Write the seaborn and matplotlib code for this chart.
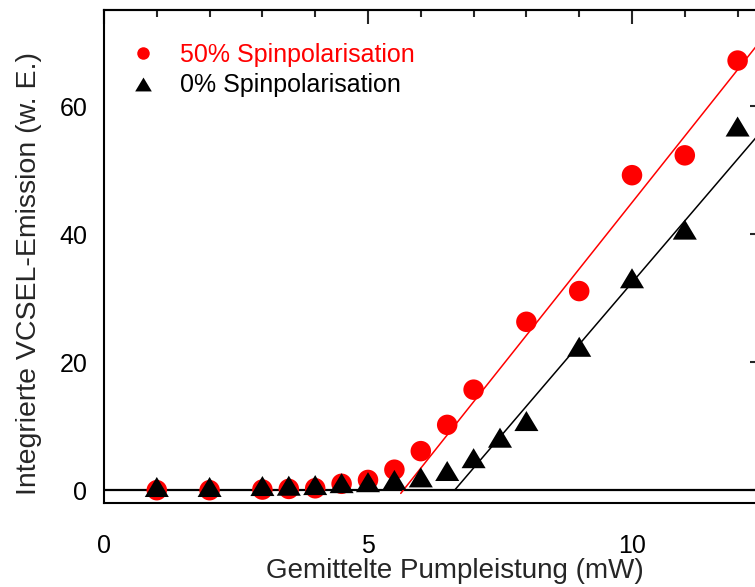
import matplotlib
matplotlib.use("Agg")
import matplotlib.pyplot as plt
from matplotlib.lines import Line2D
from matplotlib.ticker import MultipleLocator, NullFormatter
import seaborn as sns

# Pump power (mW) and integrated emission (arb. units)
power_50 = [1, 2, 3, 3.5, 4, 4.5, 5, 5.5, 6, 6.5, 7, 8, 9, 10, 11, 12]
emission_50 = [0.0, 0.0, 0.1, 0.2, 0.3, 1.0, 1.6, 3.2, 6.1, 10.2, 15.7, 26.3,
               31.1, 49.2, 52.3, 67.1]

power_0 = [1, 2, 3, 3.5, 4, 4.5, 5, 5.5, 6, 6.5, 7, 7.5, 8, 9, 10, 11, 12]
emission_0 = [0.5, 0.5, 0.65, 0.7, 0.8, 1.1, 1.25, 1.6, 2.0, 3.0, 5.0, 8.2,
              10.8, 22.4, 33.1, 40.7, 56.8]

# Linear fits above threshold (end points)
fit_50_x = [5.62, 12.6]
fit_50_y = [-0.5, 71.9]
fit_0_x = [6.64, 12.6]
fit_0_y = [0.0, 57.5]

labels = ["50% Spinpolarisation", "0% Spinpolarisation"]
colors = ["#ff0000", "#000000"]

sns.set_style("white")
plt.rcParams["font.family"] = ["Liberation Sans", "DejaVu Sans"]

fig = plt.figure(figsize=(7.55, 5.87), dpi=100)
ax = fig.add_axes([104 / 755, 84 / 587, 660 / 755, 493 / 587])

# triangle a bit wider than tall
tri = [(-1.2, -1.0), (1.2, -1.0), (0.0, 1.0)]

ax.axhline(0, color="black", lw=1.6, zorder=1)
sns.lineplot(x=fit_50_x, y=fit_50_y, color=colors[0], lw=1.1, ax=ax, zorder=2)
sns.lineplot(x=fit_0_x, y=fit_0_y, color=colors[1], lw=1.1, ax=ax, zorder=2)
sns.scatterplot(x=power_50, y=emission_50, marker="o", s=218, color=colors[0],
                edgecolor="none", linewidth=0, ax=ax, zorder=3)
sns.scatterplot(x=power_0, y=emission_0, marker=tri, s=300, color=colors[1],
                edgecolor="none", linewidth=0, ax=ax, zorder=4)

ax.set_xlim(0, 12.5)
ax.set_ylim(-2, 75)

ax.xaxis.set_major_locator(MultipleLocator(5))
ax.xaxis.set_minor_locator(MultipleLocator(1))
ax.yaxis.set_major_locator(MultipleLocator(20))
ax.yaxis.set_minor_locator(MultipleLocator(10))
ax.tick_params(which="both", direction="out", top=False, right=False,
               width=1.5, labelsize=18, colors="black")
ax.tick_params(which="major", length=10)
ax.tick_params(which="minor", length=5)
ax.tick_params(axis="x", pad=12)
ax.tick_params(axis="y", pad=2)

for side in ["left", "bottom", "top", "right"]:
    ax.spines[side].set_visible(True)
    ax.spines[side].set_color("black")
    ax.spines[side].set_linewidth(1.5)

# inward ticks on the top and right edges
top = ax.secondary_xaxis("top")
top.xaxis.set_major_locator(MultipleLocator(5))
top.xaxis.set_minor_locator(MultipleLocator(1))
top.xaxis.set_major_formatter(NullFormatter())
top.tick_params(which="both", direction="in", width=1.5)
top.tick_params(which="major", length=10)
top.tick_params(which="minor", length=5)
top.spines["top"].set_linewidth(1.5)

right = ax.secondary_yaxis("right")
right.yaxis.set_major_locator(MultipleLocator(20))
right.yaxis.set_minor_locator(MultipleLocator(10))
right.yaxis.set_major_formatter(NullFormatter())
right.tick_params(which="both", direction="in", width=1.5)
right.tick_params(which="major", length=10)
right.tick_params(which="minor", length=5)
right.spines["right"].set_linewidth(1.5)

ax.set_xlabel("Gemittelte Pumpleistung (mW)", fontsize=20)
ax.set_ylabel("Integrierte VCSEL-Emission (w. E.)", fontsize=20.5)
ax.xaxis.set_label_coords(0.531, -0.112)
ax.yaxis.set_label_coords(-0.094, 0.465)

handles = [
    Line2D([], [], marker="o", ls="", color=colors[0], markeredgewidth=0, ms=9),
    Line2D([], [], marker=tri, ls="", color=colors[1], markeredgewidth=0, ms=12),
]
ax.legend(handles=handles, labels=labels, loc="upper left",
          bbox_to_anchor=(0.04, 0.933), frameon=False, fontsize=18,
          labelcolor=colors, handlelength=1.0, handletextpad=1.0,
          labelspacing=0.25, borderpad=0, borderaxespad=0)

fig.savefig("out.png", dpi=100)
